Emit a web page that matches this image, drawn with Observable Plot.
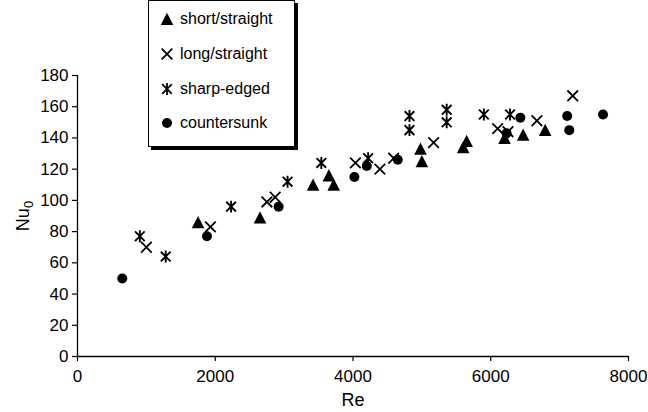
<!DOCTYPE html>
<html>
<head>
<meta charset="utf-8">
<script src="https://cdn.jsdelivr.net/npm/d3@7"></script>
<script src="https://cdn.jsdelivr.net/npm/@observablehq/plot@0.6"></script>
<style>
  html, body { margin: 0; padding: 0; background: #fff; }
  #wrap { position: relative; width: 648px; height: 412px; font-family: "Liberation Sans", Arial, sans-serif; }
  #legend { position: absolute; left: 148px; top: 0px; width: 147px; height: 147px; background: #fff;
    border: 1px solid #000; box-shadow: 3px 3px 0 #000; box-sizing: border-box; }
  .item { position: absolute; left: 0; height: 20px; display: flex; align-items: center; font-size: 16px; color: #000; }
  .item svg { margin-left: 11px; margin-right: 6px; }
</style>
</head>
<body>
<div id="wrap"></div>
<script>
// Data (Re, Nu0)
const shortRe = [1750, 2650, 3420, 3650, 3720, 4980, 5000, 5600, 5650, 6200, 6470, 6790];
const shortNu = [86, 89, 110, 116, 110, 133, 125, 134, 138, 140, 142, 145];
const longRe = [1000, 1930, 2750, 2870, 4035, 4390, 4590, 5170, 6100, 6250, 6670, 7190];
const longNu = [70, 83, 99, 102, 124, 120, 127, 137, 146, 144, 151, 167];
const sharpRe = [905, 1280, 2230, 3050, 3540, 4220, 4820, 4820, 5360, 5360, 5900, 6280];
const sharpNu = [77, 64, 96, 112, 124, 127, 154, 145, 158, 150, 155, 155];
const sunkRe = [650, 1880, 2920, 4020, 4200, 4650, 6230, 6430, 7110, 7140, 7630];
const sunkNu = [50, 77, 96, 115, 122, 126, 143, 153, 154, 145, 155];
const seriesNames = ["short/straight", "long/straight", "sharp-edged", "countersunk"];
const xTicks = [0, 2000, 4000, 6000, 8000];
const yTicks = [0, 20, 40, 60, 80, 100, 120, 140, 160, 180];

const toRows = (xs, ys) => xs.map((x, i) => ({x, y: ys[i]}));

// custom symbols
const triangleSym = { draw(ctx, size) { const r = Math.sqrt(size / Math.PI); ctx.moveTo(0, -r); ctx.lineTo(r, r * 0.95); ctx.lineTo(-r, r * 0.95); ctx.closePath(); } };
const timesSym = { draw(ctx, size) { const r = Math.sqrt(size / Math.PI); ctx.moveTo(-r, -r); ctx.lineTo(r, r); ctx.moveTo(-r, r); ctx.lineTo(r, -r); } };
const starSym = { draw(ctx, size) { const r = Math.sqrt(size / Math.PI); const a = r * 0.85; ctx.moveTo(-a, -a); ctx.lineTo(a, a); ctx.moveTo(-a, a); ctx.lineTo(a, -a); ctx.moveTo(0, -r * 1.05); ctx.lineTo(0, r * 1.05); } };
const circleSym = d3.symbolCircle;

const font = '"Liberation Sans", Arial, sans-serif';
const rTri = 6.3, rTimes = 5.3, rStar = 5.7, rCirc = 5;

const chart = Plot.plot({
  width: 648,
  height: 412,
  marginLeft: 77,
  marginRight: 20,
  marginTop: 75,
  marginBottom: 56,
  style: { fontFamily: font, fontSize: "17px", color: "#000", background: "#fff", overflow: "visible" },
  x: { domain: [0, 8000], label: null },
  y: { domain: [0, 180], label: null },
  marks: [
    Plot.ruleY([0], { stroke: "#000", strokeWidth: 1.3 }),
    Plot.ruleX([0], { stroke: "#000", strokeWidth: 1.3 }),
    Plot.axisX({ ticks: xTicks, tickFormat: d3.format("d"), tickSize: 5, tickPadding: 8, fontSize: 17, stroke: "#000", strokeWidth: 1.2, label: null }),
    Plot.axisY({ ticks: yTicks, tickFormat: d3.format("d"), tickSize: 5, tickPadding: 4, fontSize: 17, stroke: "#000", strokeWidth: 1.2, label: null }),
    Plot.dot(toRows(shortRe, shortNu), { x: "x", y: "y", symbol: triangleSym, r: rTri, fill: "#000", stroke: "none" }),
    Plot.dot(toRows(longRe, longNu), { x: "x", y: "y", symbol: timesSym, r: rTimes, fill: "none", stroke: "#000", strokeWidth: 1.8 }),
    Plot.dot(toRows(sharpRe, sharpNu), { x: "x", y: "y", symbol: starSym, r: rStar, fill: "none", stroke: "#000", strokeWidth: 1.9 }),
    Plot.dot(toRows(sunkRe, sunkNu), { x: "x", y: "y", symbol: circleSym, r: rCirc, fill: "#000", stroke: "none" }),
    Plot.text(["Re"], { frameAnchor: "bottom", dy: 49, fontSize: 18, text: d => d }),
    Plot.text(["Nu"], { frameAnchor: "left", dx: -54, rotate: -90, fontSize: 18, text: d => d, textAnchor: "middle" })
  ]
});

const wrap = document.getElementById("wrap");
wrap.appendChild(chart);
// subscript for Nu0
d3.select(chart).selectAll("text").filter(function() { return this.textContent === "Nu"; }).each(function() {
  const t = d3.select(this);
  t.text(null);
  t.append("tspan").text("Nu");
  t.append("tspan").attr("dy", "0.3em").attr("font-size", "13px").text("0");
});

// legend
const legend = document.createElement("div");
legend.id = "legend";
wrap.appendChild(legend);
const syms = [triangleSym, timesSym, starSym, circleSym];
const radii = [rTri, rTimes, rStar, rCirc];
const fills = ["#000", "none", "none", "#000"];
const strokes = ["none", "#000", "#000", "none"];
const tops = [8, 43, 78, 112];
seriesNames.forEach((name, i) => {
  const item = document.createElement("div");
  item.className = "item";
  item.style.top = tops[i] + "px";
  const s = d3.create("svg").attr("width", 14).attr("height", 14);
  s.append("path")
    .attr("transform", "translate(7,7)")
    .attr("d", d3.symbol(syms[i], Math.PI * radii[i] ** 2)())
    .attr("fill", fills[i]).attr("stroke", strokes[i]).attr("stroke-width", 1.8);
  item.appendChild(s.node());
  const span = document.createElement("span");
  span.textContent = name;
  item.appendChild(span);
  legend.appendChild(item);
});
</script>
</body>
</html>
